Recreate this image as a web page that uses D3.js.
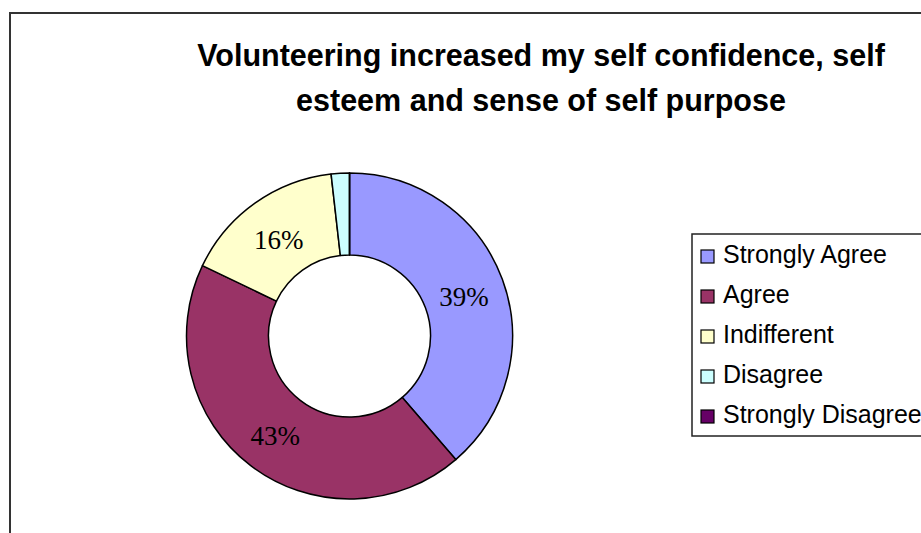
<!DOCTYPE html>
<meta charset="utf-8">
<style>
body{
	margin:0;
	background:#fff;
}
.title{
	font-family:"Liberation Sans", Arial, sans-serif;
	font-weight:bold;
	font-size:30.5px;
	text-anchor:middle;
}
.legend text{
	font-family:"Liberation Sans", Arial, sans-serif;
	font-size:25px;
}
.perc{
	font-family:"Liberation Serif", "Times New Roman", serif;
	font-size:27px;
	text-anchor:middle;
}
</style>
<body>
<script src="https://cdn.jsdelivr.net/npm/d3@7"></script>
<script>

var categories=["Strongly Agree","Agree","Indifferent","Disagree","Strongly Disagree"];
var values=[38.7,43.4,16.1,1.8,0];
var colors=["#9999FF","#993366","#FFFFCC","#CCFFFF","#660066"];
var titleLines=["Volunteering increased my self confidence, self","esteem and sense of self purpose"];

var data=categories.map((c,i)=>({name:c,value:values[i],color:colors[i]}));

var svg=d3.select("body").append("svg").attr("width",921).attr("height",533);

// outer chart frame (runs off the right and bottom edges)
svg.append("rect")
	.attr("x",10).attr("y",13)
	.attr("width",1000).attr("height",600)
	.attr("fill","#fff")
	.attr("stroke","#333")
	.attr("stroke-width",2);

svg.append("text").attr("class","title")
	.selectAll("tspan").data(titleLines).enter().append("tspan")
	.attr("x",541)
	.attr("y",(d,i)=>66+i*45)
	.text(d=>d);

var outerR=163, innerR=81;
var g=svg.append("g").attr("transform","translate(349.5,336)");

var pie=d3.pie().sort(null).value(d=>d.value);
var arc=d3.arc().innerRadius(innerR).outerRadius(outerR);

var arcs=pie(data);

g.selectAll("path").data(arcs).enter().append("path")
	.attr("d",arc)
	.attr("fill",d=>d.data.color)
	.attr("stroke","#000")
	.attr("stroke-width",1.5)
	.attr("stroke-linejoin","round");

g.selectAll(".perc").data(arcs.filter(d=>d.data.value>=5)).enter().append("text")
	.attr("class","perc")
	.attr("x",d=>arc.centroid(d)[0])
	.attr("y",d=>arc.centroid(d)[1]+12)
	.text(d=>d3.format(".0f")(d.data.value)+"%");

// legend
var legend=svg.append("g").attr("class","legend").attr("transform","translate(692,234)");
legend.append("rect")
	.attr("width",300).attr("height",202)
	.attr("fill","#fff")
	.attr("stroke","#222")
	.attr("stroke-width",1.5);

var item=legend.selectAll(".item").data(data).enter().append("g")
	.attr("class","item")
	.attr("transform",(d,i)=>"translate(9,"+(16+i*40)+")");

item.append("rect")
	.attr("width",13).attr("height",13)
	.attr("fill",d=>d.color)
	.attr("stroke","#000")
	.attr("stroke-width",1.2);

item.append("text")
	.attr("x",22)
	.attr("y",13)
	.text(d=>d.name);

</script>
</body>
</html>
